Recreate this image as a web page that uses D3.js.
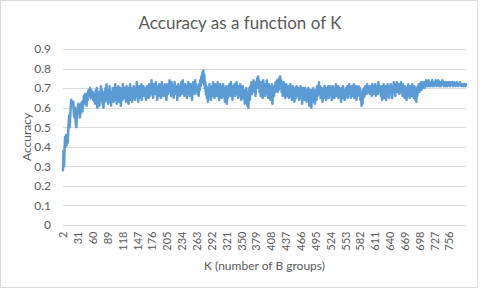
<!DOCTYPE html>
<html>
<head>
<meta charset="utf-8">
<script src="https://cdn.jsdelivr.net/npm/d3@7"></script>
<style>
  html, body { margin: 0; padding: 0; background: #fff; }
  svg { display: block; font-family: Lato, "Open Sans", sans-serif; }
</style>
</head>
<body>
<svg width="480" height="289"></svg>
<script>

// Accuracy for each K (K = 2, 3, 4, ...)
const accuracy = [
  0.28,0.38,0.30,0.39,0.45,0.40,0.46,0.41,0.46,0.42,0.47,0.52,0.56,0.50,0.55,0.60,0.64,0.62,0.63,0.61,
  0.63,0.58,0.55,0.60,0.56,0.52,0.50,0.55,0.58,0.61,0.62,0.58,0.60,0.55,0.57,0.62,0.60,0.63,0.58,0.61,
  0.63,0.66,0.64,0.67,0.62,0.66,0.61,0.67,0.64,0.68,0.69,0.66,0.68,0.70,0.65,0.69,0.67,0.66,0.68,0.64,
  0.66,0.63,0.67,0.62,0.69,0.64,0.70,0.60,0.66,0.63,0.68,0.61,0.67,0.64,0.71,0.65,0.69,0.62,0.66,0.60,
  0.65,0.68,0.63,0.70,0.66,0.72,0.64,0.67,0.62,0.69,0.65,0.71,0.63,0.66,0.61,0.68,0.64,0.70,0.66,0.63,
  0.69,0.64,0.72,0.67,0.70,0.62,0.68,0.65,0.71,0.63,0.67,0.66,0.70,0.61,0.66,0.69,0.64,0.72,0.68,0.65,
  0.70,0.66,0.68,0.63,0.71,0.67,0.65,0.70,0.62,0.68,0.66,0.72,0.64,0.69,0.67,0.63,0.70,0.66,0.71,0.65,
  0.68,0.64,0.70,0.67,0.73,0.66,0.69,0.63,0.68,0.71,0.65,0.70,0.67,0.72,0.64,0.69,0.66,0.71,0.68,0.70,
  0.66,0.69,0.64,0.68,0.71,0.67,0.70,0.65,0.72,0.68,0.66,0.71,0.69,0.74,0.67,0.70,0.65,0.72,0.69,0.71,
  0.67,0.73,0.68,0.70,0.64,0.69,0.71,0.66,0.72,0.68,0.70,0.65,0.69,0.73,0.67,0.71,0.66,0.70,0.68,0.72,
  0.66,0.70,0.64,0.69,0.72,0.67,0.71,0.68,0.74,0.69,0.72,0.66,0.73,0.70,0.68,0.71,0.65,0.70,0.73,0.68,
  0.71,0.67,0.70,0.64,0.69,0.72,0.68,0.70,0.66,0.71,0.69,0.73,0.67,0.70,0.74,0.68,0.71,0.66,0.69,0.72,
  0.68,0.70,0.65,0.71,0.69,0.73,0.67,0.70,0.66,0.72,0.69,0.71,0.64,0.70,0.73,0.68,0.71,0.67,0.74,0.70,
  0.72,0.68,0.71,0.67,0.70,0.66,0.72,0.69,0.74,0.71,0.76,0.73,0.78,0.74,0.79,0.72,0.77,0.70,0.73,0.67,
  0.71,0.65,0.70,0.63,0.68,0.66,0.72,0.67,0.70,0.64,0.69,0.71,0.66,0.73,0.68,0.70,0.65,0.72,0.69,0.67,
  0.71,0.66,0.73,0.68,0.70,0.64,0.69,0.72,0.67,0.71,0.65,0.70,0.68,0.72,0.66,0.69,0.63,0.70,0.67,0.71,
  0.62,0.68,0.65,0.71,0.67,0.72,0.69,0.66,0.73,0.68,0.70,0.64,0.71,0.69,0.67,0.72,0.66,0.70,0.68,0.73,
  0.67,0.70,0.65,0.71,0.68,0.66,0.72,0.69,0.64,0.70,0.67,0.71,0.65,0.69,0.66,0.62,0.68,0.64,0.70,0.66,
  0.61,0.67,0.60,0.66,0.70,0.64,0.71,0.68,0.73,0.67,0.72,0.69,0.74,0.70,0.68,0.72,0.66,0.73,0.70,0.75,
  0.71,0.76,0.70,0.74,0.68,0.72,0.66,0.73,0.69,0.71,0.65,0.74,0.70,0.68,0.72,0.66,0.71,0.69,0.74,0.67,
  0.70,0.65,0.72,0.68,0.71,0.64,0.69,0.66,0.72,0.62,0.68,0.70,0.66,0.71,0.68,0.73,0.69,0.70,0.74,0.68,
  0.72,0.69,0.75,0.70,0.76,0.71,0.74,0.68,0.72,0.66,0.70,0.73,0.67,0.71,0.65,0.69,0.72,0.66,0.70,0.68,
  0.71,0.65,0.69,0.67,0.72,0.66,0.70,0.64,0.68,0.71,0.66,0.69,0.63,0.68,0.70,0.65,0.71,0.67,0.69,0.66,
  0.70,0.64,0.68,0.66,0.71,0.65,0.69,0.62,0.67,0.70,0.65,0.68,0.64,0.70,0.66,0.69,0.63,0.68,0.65,0.70,
  0.66,0.61,0.67,0.64,0.69,0.60,0.66,0.68,0.63,0.70,0.65,0.68,0.62,0.67,0.69,0.64,0.71,0.66,0.70,0.68,
  0.73,0.67,0.71,0.65,0.70,0.66,0.69,0.63,0.68,0.70,0.65,0.71,0.67,0.69,0.64,0.70,0.66,0.68,0.71,0.65,
  0.69,0.66,0.71,0.67,0.70,0.64,0.68,0.71,0.66,0.69,0.65,0.70,0.68,0.72,0.66,0.69,0.67,0.71,0.65,0.68,
  0.70,0.66,0.69,0.63,0.68,0.70,0.65,0.71,0.67,0.69,0.64,0.68,0.66,0.70,0.67,0.71,0.65,0.69,0.68,0.72,
  0.67,0.70,0.65,0.69,0.71,0.66,0.70,0.68,0.72,0.65,0.69,0.67,0.71,0.64,0.68,0.70,0.66,0.71,0.69,0.67,
  0.70,0.64,0.68,0.61,0.67,0.62,0.69,0.65,0.70,0.66,0.71,0.68,0.70,0.67,0.72,0.68,0.71,0.69,0.70,0.67,
  0.71,0.68,0.70,0.66,0.72,0.69,0.71,0.67,0.70,0.68,0.72,0.66,0.71,0.69,0.70,0.67,0.73,0.68,0.71,0.69,
  0.70,0.66,0.71,0.64,0.69,0.67,0.72,0.65,0.70,0.68,0.71,0.64,0.69,0.66,0.72,0.68,0.70,0.65,0.71,0.69,
  0.72,0.67,0.70,0.65,0.71,0.68,0.73,0.69,0.71,0.66,0.72,0.70,0.73,0.68,0.71,0.69,0.72,0.67,0.70,0.68,
  0.73,0.69,0.71,0.66,0.72,0.68,0.70,0.65,0.71,0.67,0.69,0.64,0.70,0.66,0.72,0.68,0.70,0.65,0.71,0.67,
  0.70,0.66,0.72,0.68,0.69,0.65,0.71,0.67,0.64,0.70,0.63,0.68,0.66,0.71,0.69,0.72,0.68,0.71,0.70,0.73,
  0.69,0.72,0.70,0.73,0.71,0.72,0.70,0.73,0.71,0.74,0.72,0.71,0.73,0.72,0.74,0.71,0.73,0.72,0.71,0.73,
  0.72,0.74,0.71,0.73,0.72,0.71,0.73,0.72,0.74,0.72,0.71,0.73,0.72,0.74,0.73,0.71,0.72,0.73,0.71,0.72,
  0.73,0.74,0.72,0.73,0.71,0.72,0.73,0.71,0.72,0.73,0.72,0.71,0.72,0.73,0.72,0.72,0.71,0.73,0.72,0.72,
  0.73,0.72,0.71,0.72,0.73,0.72,0.72,0.71,0.72,0.73,0.72,0.72,0.71,0.72,0.72,0.73,0.72,0.72,0.71,0.72,
  0.72,0.72,0.71,0.72,0.72,0.72,0.71,0.72
];

// categories: K = 2 .. 789
const kValues = accuracy.map((d, i) => i + 2);

// labels Excel shows on the category axis
const xTickLabels = [2, 31, 60, 89, 118, 147, 176, 205, 234, 263, 292, 321, 350, 379,
  408, 437, 466, 495, 524, 553, 582, 611, 640, 669, 698, 727, 756];
const yTicks = [0, 0.1, 0.2, 0.3, 0.4, 0.5, 0.6, 0.7, 0.8, 0.9];

const svg = d3.select("svg");
const textColor = "#595959";
const gridColor = "#d9d9d9";

// chart area border
svg.append("rect")
    .attr("x", 0.5).attr("y", 0.5)
    .attr("width", 477).attr("height", 287)
    .attr("fill", "#fff")
    .attr("stroke", gridColor);

const plot = { left: 63, right: 466, top: 49, bottom: 225 };

const x = d3.scalePoint()
    .domain(kValues)
    .range([plot.left, plot.right]);

const y = d3.scaleLinear()
    .domain([0, 0.9])
    .range([plot.bottom, plot.top]);

// gridlines
svg.append("g")
    .selectAll("line")
    .data(yTicks).enter()
    .append("line")
        .attr("x1", plot.left)
        .attr("x2", plot.right)
        .attr("y1", d => Math.round(y(d)) + 0.5)
        .attr("y2", d => Math.round(y(d)) + 0.5)
        .attr("stroke", gridColor)
        .attr("stroke-width", 1);

// y axis labels
const yAxis = svg.append("g")
    .attr("transform", "translate(" + (plot.left - 8) + ",0)")
    .call(d3.axisLeft(y).tickValues(yTicks).tickSize(0).tickPadding(4).tickFormat(d3.format("")));
yAxis.select(".domain").remove();
yAxis.selectAll("text")
    .style("font-size", "12px")
    .style("font-family", "Lato, sans-serif")
    .attr("fill", textColor);

// x axis labels (rotated)
const xAxis = svg.append("g")
    .attr("transform", "translate(0," + (plot.bottom + 0.5) + ")")
    .call(d3.axisBottom(x).tickValues(xTickLabels).tickSize(0).tickPadding(0));
xAxis.select(".domain").remove();
xAxis.selectAll("text")
    .style("font-size", "11px")
    .style("font-family", "Lato, sans-serif")
    .attr("fill", textColor)
    .attr("text-anchor", "end")
    .attr("dy", "0.35em")
    .attr("transform", "translate(0,6)rotate(-90)");

// the series
const line = d3.line()
    .x((d, i) => x(kValues[i]))
    .y(d => y(d));

svg.append("path")
    .datum(accuracy)
    .attr("fill", "none")
    .attr("stroke", "#5b9bd5")
    .attr("stroke-width", 2.5)
    .attr("stroke-linejoin", "round")
    .attr("stroke-linecap", "round")
    .attr("d", line);

// titles
svg.append("text")
    .attr("x", 240)
    .attr("y", 29)
    .attr("text-anchor", "middle")
    .style("font-size", "17px")
    .attr("fill", textColor)
    .text("Accuracy as a function of K");

svg.append("text")
    .attr("transform", "translate(31," + ((plot.top + plot.bottom) / 2) + ")rotate(-90)")
    .attr("text-anchor", "middle")
    .style("font-size", "12px")
    .attr("fill", textColor)
    .text("Accuracy");

svg.append("text")
    .attr("x", (plot.left + plot.right) / 2)
    .attr("y", 270)
    .attr("text-anchor", "middle")
    .style("font-size", "12px")
    .attr("fill", textColor)
    .text("K (number of B groups)");

</script>
</body>
</html>
